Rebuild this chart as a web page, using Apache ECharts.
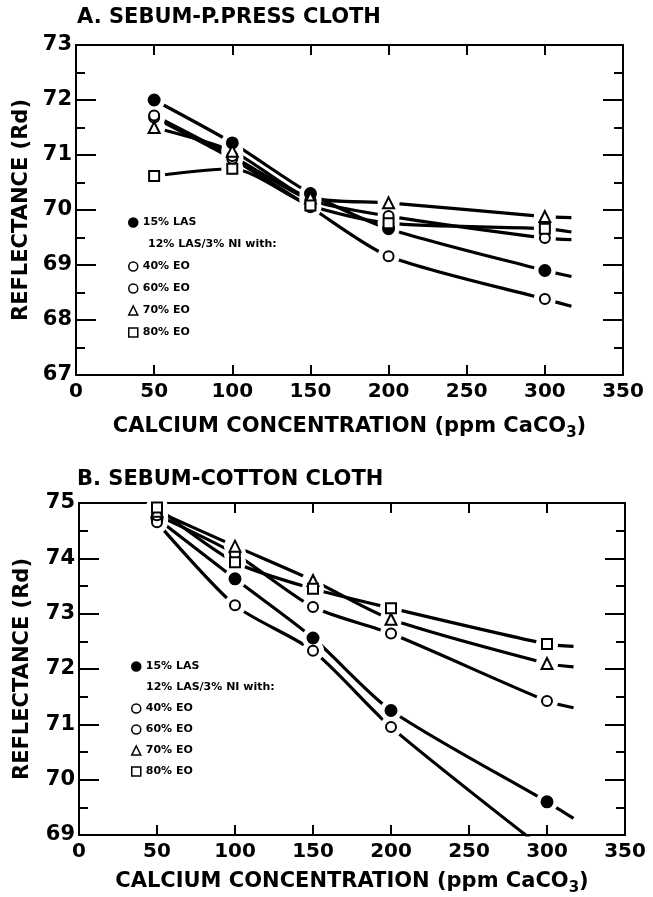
<!DOCTYPE html>
<html>
<head>
<meta charset="utf-8">
<title>Reflectance vs calcium concentration</title>
<script src="https://cdn.jsdelivr.net/npm/echarts@6/dist/echarts.min.js"></script>
<style>
  html, body { margin: 0; padding: 0; background: #fff; }
  #chart { width: 653px; height: 897px; }
</style>
</head>
<body>
<div id="chart"></div>
<script>
// calcium concentration (ppm CaCO3); last point is the short tail drawn past 300
const calcium = [50, 100, 150, 200, 300, 317]
const seriesNames = ['15% LAS', '40% EO', '60% EO', '70% EO', '80% EO']

// A. sebum - permanent press cloth
const pressLas = [72.0, 71.22, 70.30, 69.66, 68.90, 68.79]
const press40 = [71.68, 70.93, 70.05, 69.16, 68.38, 68.25]
const press60 = [71.72, 70.98, 70.18, 69.89, 69.49, 69.46]
const press70 = [71.50, 71.07, 70.22, 70.13, 69.88, 69.86]
const press80 = [70.62, 70.75, 70.08, 69.76, 69.66, 69.60]

// B. sebum - cotton cloth
const cottonLas = [74.72, 73.63, 72.56, 71.25, 69.60, 69.30]
const cotton40 = [74.65, 73.15, 72.33, 70.95, 68.70, null]
const cotton60 = [74.78, 74.08, 73.12, 72.64, 71.42, 71.30]
const cotton70 = [74.85, 74.22, 73.60, 72.90, 72.10, 72.04]
const cotton80 = [74.92, 73.93, 73.45, 73.10, 72.45, 72.41]

const FONT = 'DejaVu Sans'
const symbols = {
  '15% LAS': { symbol: 'circle', size: 11, fill: '#000' },
  '40% EO': { symbol: 'circle', size: 10, fill: '#fff' },
  '60% EO': { symbol: 'circle', size: 10, fill: '#fff' },
  '70% EO': { symbol: 'triangle', size: 11, fill: '#fff' },
  '80% EO': { symbol: 'rect', size: 10, fill: '#fff' }
}

const chart = echarts.init(document.getElementById('chart'), null, { renderer: 'canvas' })

/* one panel = 5 lines, white halos round the points (gaps), then the markers */
function panelSeries(values, xi, yi, tag) {
  const out = []
  values.forEach((vals, k) => {
    const name = seriesNames[k]
    out.push({
      name: 'line ' + name + ' ' + tag,
      type: 'line',
      xAxisIndex: xi,
      yAxisIndex: yi,
      data: calcium.map((c, i) => [c, vals[i]]),
      smooth: 0.25,
      showSymbol: false,
      connectNulls: false,
      lineStyle: { color: '#000', width: 3.2 },
      silent: true,
      z: 2
    })
  })
  const halo = []
  values.forEach(vals => {
    calcium.forEach((c, i) => {
      if (c <= 300 && vals[i] != null) halo.push([c, vals[i]])
    })
  })
  out.push({
    name: 'halo ' + tag,
    type: 'scatter',
    xAxisIndex: xi,
    yAxisIndex: yi,
    data: halo,
    symbol: 'circle',
    symbolSize: 22,
    itemStyle: { color: '#fff', opacity: 1 },
    silent: true,
    z: 3
  })
  values.forEach((vals, k) => {
    const name = seriesNames[k]
    const s = symbols[name]
    out.push({
      name: name,
      type: 'scatter',
      xAxisIndex: xi,
      yAxisIndex: yi,
      data: calcium.map((c, i) => [c, vals[i]]).filter(p => p[0] <= 300 && p[1] != null),
      symbol: s.symbol,
      symbolSize: s.size,
      itemStyle: { color: s.fill, borderColor: '#000', borderWidth: 2, opacity: 1 },
      z: 4
    })
  })
  return out
}

function xAxes(grid, top) {
  return {
    type: 'value',
    gridIndex: grid,
    position: top ? 'top' : 'bottom',
    min: 0,
    max: 350,
    interval: 50,
    axisLine: { show: true, onZero: false, lineStyle: { color: '#000', width: 2 } },
    axisTick: { show: true, inside: true, length: 10, lineStyle: { color: '#000', width: 2 } },
    axisLabel: {
      show: !top,
      color: '#000',
      fontFamily: FONT,
      fontWeight: 'bold',
      fontSize: 20,
      margin: 7,
      showMinLabel: true,
      showMaxLabel: true
    },
    splitLine: { show: false },
    name: top ? '' : 'CALCIUM CONCENTRATION (ppm CaCO{sub|3})',
    nameLocation: 'middle',
    nameGap: grid === 0 ? 37 : 32,
    nameTextStyle: {
      color: '#000',
      fontFamily: FONT,
      fontWeight: 'bold',
      fontSize: 21,
      rich: {
        sub: { fontFamily: FONT, fontWeight: 'bold', fontSize: 15, color: '#000', padding: [14, 0, 0, 0] }
      }
    }
  }
}

function yAxes(grid, right, min, max) {
  return {
    type: 'value',
    gridIndex: grid,
    position: right ? 'right' : 'left',
    min: min,
    max: max,
    interval: 1,
    axisLine: { show: true, onZero: false, lineStyle: { color: '#000', width: 2 } },
    axisTick: { show: true, inside: true, length: 20, lineStyle: { color: '#000', width: 2 } },
    minorTick: { show: true, splitNumber: 2, length: 9, lineStyle: { color: '#000', width: 2 } },
    axisLabel: {
      show: !right,
      color: '#000',
      fontFamily: FONT,
      fontWeight: 'bold',
      fontSize: 21,
      margin: 4
    },
    splitLine: { show: false },
    name: right ? '' : 'REFLECTANCE (Rd)',
    nameLocation: 'middle',
    nameRotate: 90,
    nameGap: grid === 0 ? 42 : 46,
    nameTextStyle: { color: '#000', fontFamily: FONT, fontWeight: 'bold', fontSize: 21 }
  }
}

function legendItem(name) {
  const s = symbols[name]
  return {
    name: name,
    icon: s.symbol,
    itemStyle: { color: s.fill, borderColor: '#000', borderWidth: 1.5 }
  }
}

function legends(left, top, gap) {
  const text = { color: '#000', fontFamily: FONT, fontWeight: 'bold', fontSize: 11 }
  const step = gap + 11
  return [
    {
      left: left, top: top, orient: 'vertical',
      itemWidth: 9, itemHeight: 9, itemGap: gap, padding: 0,
      selectedMode: false, textStyle: text,
      data: [legendItem('15% LAS')]
    },
    {
      left: left, top: top + 2 * step, orient: 'vertical',
      itemWidth: 9, itemHeight: 9, itemGap: gap, padding: 0,
      selectedMode: false, textStyle: text,
      data: ['40% EO', '60% EO', '70% EO', '80% EO'].map(legendItem)
    }
  ]
}

const titleStyle = { color: '#000', fontFamily: FONT, fontWeight: 'bold', fontSize: 21 }

chart.setOption({
  backgroundColor: '#fff',
  animation: false,
  title: [
    { text: 'A. SEBUM-P.PRESS CLOTH', left: 77, top: 7, padding: 0, textStyle: titleStyle },
    { text: 'B. SEBUM-COTTON CLOTH', left: 77, top: 469, padding: 0, textStyle: titleStyle }
  ],
  legend: [].concat(legends(128, 217, 11), legends(131, 661, 10)),
  graphic: [
    {
      type: 'text', left: 148, top: 239,
      style: { text: '12% LAS/3% NI with:', fill: '#000', font: 'bold 11px "DejaVu Sans"' }
    },
    {
      type: 'text', left: 146, top: 682,
      style: { text: '12% LAS/3% NI with:', fill: '#000', font: 'bold 11px "DejaVu Sans"' }
    }
  ],
  grid: [
    { left: 76, top: 45, width: 547, height: 330, outerBoundsMode: 'none' },
    { left: 79, top: 503, width: 546, height: 332, outerBoundsMode: 'none' }
  ],
  xAxis: [xAxes(0, false), xAxes(0, true), xAxes(1, false), xAxes(1, true)],
  yAxis: [yAxes(0, false, 67, 73), yAxes(0, true, 67, 73), yAxes(1, false, 69, 75), yAxes(1, true, 69, 75)],
  series: [].concat(
    panelSeries([pressLas, press40, press60, press70, press80], 0, 0, 'A'),
    panelSeries([cottonLas, cotton40, cotton60, cotton70, cotton80], 2, 2, 'B')
  )
})
</script>
</body>
</html>
